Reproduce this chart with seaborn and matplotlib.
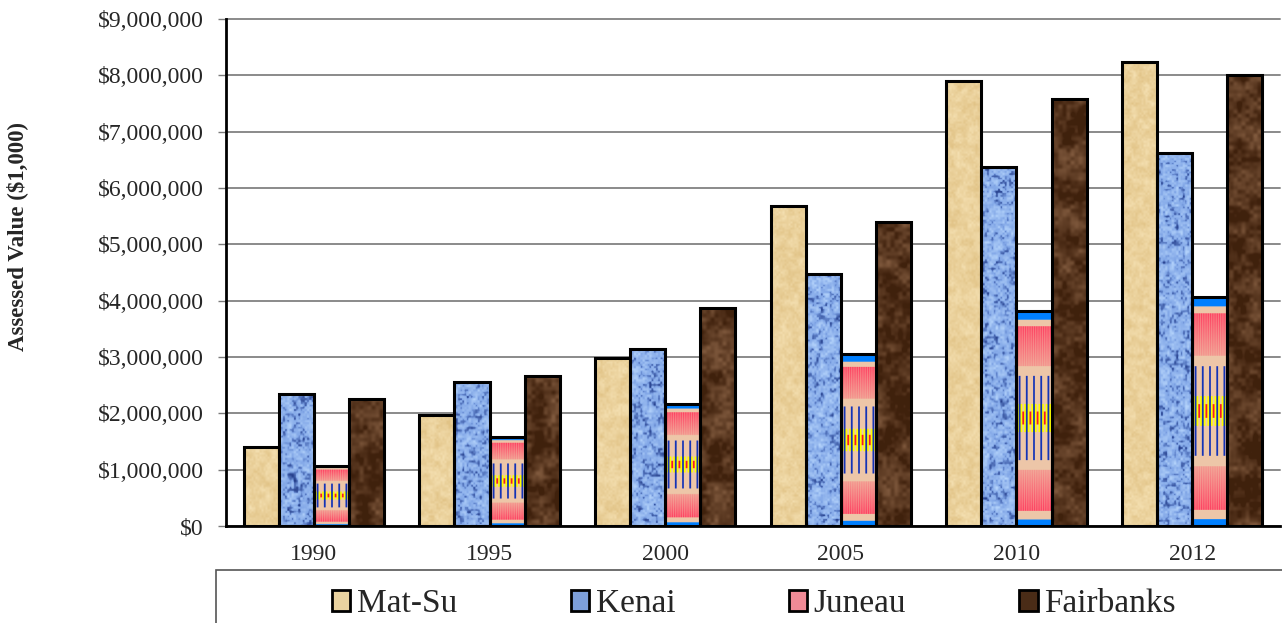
import numpy as np
import pandas as pd
import matplotlib
matplotlib.use("Agg")
import matplotlib.pyplot as plt
import seaborn as sns
from matplotlib.patches import Patch, Rectangle
from matplotlib.ticker import FuncFormatter, MultipleLocator, FixedLocator

# --- Data (assessed value, $1,000) ---
years = ["1990", "1995", "2000", "2005", "2010", "2012"]
boroughs = ["Mat-Su", "Kenai", "Juneau", "Fairbanks"]
mat_su = [1400000, 1970000, 2980000, 5680000, 7900000, 8240000]
kenai = [2340000, 2560000, 3140000, 4470000, 6370000, 6630000]
juneau = [1070000, 1580000, 2170000, 3050000, 3820000, 4070000]
fairbanks = [2250000, 2660000, 3870000, 5400000, 7580000, 8000000]

series = {"Mat-Su": mat_su, "Kenai": kenai, "Juneau": juneau, "Fairbanks": fairbanks}
rows = []
for b in boroughs:
    for yr, v in zip(years, series[b]):
        rows.append({"year": yr, "borough": b, "value": v})
df = pd.DataFrame(rows)

base_colors = {"Mat-Su": "#E9D2A0", "Kenai": "#7D9FD9", "Juneau": "#F08A96", "Fairbanks": "#4A2C17"}


# --- procedural fill textures (deterministic, no data involved) ---
def hash2(i, j, seed):
    v = np.sin(i * 12.9898 + j * 78.233 + seed * 37.719) * 43758.5453
    return v - np.floor(v)


def value_noise(h, w, cell, seed):
    gy = np.arange(h) / cell
    gx = np.arange(w) / cell
    y0 = np.floor(gy)[:, None]
    x0 = np.floor(gx)[None, :]
    fy = (gy[:, None] - y0)
    fx = (gx[None, :] - x0)
    fy = fy * fy * (3 - 2 * fy)
    fx = fx * fx * (3 - 2 * fx)
    a = hash2(y0, x0, seed)
    b = hash2(y0, x0 + 1, seed)
    c = hash2(y0 + 1, x0, seed)
    d = hash2(y0 + 1, x0 + 1, seed)
    return (a * (1 - fx) + b * fx) * (1 - fy) + (c * (1 - fx) + d * fx) * fy


def mix(c1, c2, t):
    c1 = np.array(c1)[None, None, :]
    c2 = np.array(c2)[None, None, :]
    t = np.clip(t, 0, 1)[:, :, None]
    return c1 * (1 - t) + c2 * t


def tex_matsu(h, w, seed):
    n = 0.6 * value_noise(h, w, 6, seed) + 0.4 * value_noise(h, w, 2, seed + 3)
    return mix((0.96, 0.88, 0.70), (0.88, 0.76, 0.52), n)


def tex_kenai(h, w, seed):
    n = 0.55 * value_noise(h, w, 2.2, seed) + 0.45 * value_noise(h, w, 5, seed + 7)
    img = mix((0.72, 0.84, 0.99), (0.47, 0.62, 0.89), n * 1.4)
    dark = np.clip((n - 0.6) * 3, 0, 1)
    navy = np.array([0.15, 0.25, 0.55])[None, None, :]
    return navy * dark[:, :, None] + img * (1 - dark[:, :, None])


def tex_fairbanks(h, w, seed):
    n = 0.6 * value_noise(h, w, 14, seed) + 0.4 * value_noise(h, w, 4, seed + 11)
    return mix((0.25, 0.13, 0.05), (0.50, 0.35, 0.24), (n - 0.3) * 1.6)


def tex_juneau(h=200, w=40):
    img = np.zeros((h, w, 3))
    img[:] = (0.93, 0.78, 0.66)
    r = ((np.arange(h) + 0.5) / h)[:, None] * np.ones((1, w))
    c = np.ones((h, 1)) * ((np.arange(w) + 0.5) / w)[None, :]
    col = np.ones((h, 1)) * np.arange(w)[None, :]
    stripes = (col % 2) < 1
    pink_top = (r > 0.074) & (r < 0.26)
    pink_bot = (r > 0.74) & (r < 0.93)
    pink = pink_top | pink_bot
    deep = np.where(pink_top, 1 - (r - 0.074) / 0.19, (r - 0.74) / 0.19)
    deep = np.clip(0.35 + 0.65 * deep, 0, 1)
    strong = np.array([1.0, 0.20, 0.35])
    light = np.array([0.98, 0.50, 0.52])
    for k in range(3):
        s = np.where(stripes, strong[k], light[k])
        val = s * deep + img[:, :, k] * (1 - deep)
        img[:, :, k] = np.where(pink, val, img[:, :, k])
    mid = (r >= 0.25) & (r <= 0.75)
    spread = np.clip(1 - np.abs(r - 0.5) / 0.25, 0, 1)
    halfw = 0.006 + 0.03 * spread
    dist = np.abs(((c * 5) % 1) - 0.5) / 5
    faint = mid & (np.abs(((c * 5 + 0.5) % 1) - 0.5) / 5 < 0.008)
    img[faint] = (0.70, 0.72, 0.85)
    spindle = mid & (dist < halfw)
    img[spindle] = (0.08, 0.20, 0.72)
    band = np.abs(r - 0.5) < 0.065
    yel = band & (dist >= halfw) & (dist < halfw + 0.035)
    img[yel] = (1.0, 1.0, 0.0)
    red = (np.abs(r - 0.5) < 0.03) & (np.abs(((c * 5 + 0.5) % 1) - 0.5) / 5 < 0.02)
    img[red] = (0.95, 0.1, 0.2)
    blue = (r < 0.044) | (r > 0.97)
    img[blue] = (0.0, 0.5, 1.0)
    return img


# --- Figure ---
sns.set_style("white")
plt.rcParams["font.family"] = ["Liberation Serif", "DejaVu Serif"]

fig = plt.figure(figsize=(12.82, 6.23), dpi=100)
ax = fig.add_axes([226 / 1282, (623 - 526) / 623, 1054 / 1282, 507 / 623])

sns.barplot(data=df, x="year", y="value", hue="borough", hue_order=boroughs,
            palette=base_colors, saturation=1, edgecolor="black", linewidth=2.2,
            width=0.8, errorbar=None, legend=False, ax=ax)

px_per_val = 507 / 9e6
for ci, cont in enumerate(ax.containers):
    name = boroughs[ci]
    for bi, bar in enumerate(cont):
        x0, w, h = bar.get_x(), bar.get_width(), bar.get_height()
        hp = max(int(h * px_per_val), 4)
        wp = 36
        seed = ci * 10 + bi
        if name == "Mat-Su":
            img = tex_matsu(hp, wp, seed)
        elif name == "Kenai":
            img = tex_kenai(hp, wp, seed)
        elif name == "Fairbanks":
            img = tex_fairbanks(hp, wp, seed)
        else:
            img = tex_juneau()
        im = ax.imshow(img, extent=(x0, x0 + w, 0, h), aspect="auto", zorder=1.5,
                       interpolation="bilinear", origin="upper")
        im.set_clip_path(bar)
        bar.set_facecolor("none")
        bar.set_zorder(2)

ax.set_xlim(-0.5, 5.5)
ax.set_ylim(0, 9e6)
ax.set_aspect("auto")

ax.yaxis.set_major_locator(MultipleLocator(1e6))
ax.yaxis.set_major_formatter(FuncFormatter(lambda v, p: f"${v:,.0f}"))
ax.yaxis.grid(True, color="#8a8a8a", lw=1.4)
ax.set_axisbelow(True)
for gl in ax.get_ygridlines():
    gl.set_clip_on(False)

ax.xaxis.set_minor_locator(FixedLocator(np.arange(-0.5, 6, 1)))
ax.tick_params(axis="x", which="major", length=0, pad=13, labelsize=17)
ax.tick_params(axis="x", which="minor", length=7, width=1, color="#7a7a7a", direction="out")
ax.tick_params(axis="y", which="major", length=6, width=1, color="#7a7a7a", direction="out",
               pad=10, labelsize=17, left=True)

for s in ["top", "right"]:
    ax.spines[s].set_visible(False)
for s in ["left", "bottom"]:
    ax.spines[s].set_color("black")
    ax.spines[s].set_linewidth(2)
ax.set_xlabel("")
ax.set_ylabel("")

fig.text(17 / 1282, 1 - 237 / 623, "Assessed Value ($1,000)", rotation=90,
         fontweight="bold", fontsize=16.5, ha="center", va="center")

# legend box
fig.add_artist(Rectangle((216 / 1282, -0.05), 1.0, 0.05 + (623 - 570) / 623,
                         transform=fig.transFigure, fill=False, edgecolor="#555555", lw=1.2))
handles = [Patch(facecolor=base_colors[b], edgecolor="black", linewidth=2) for b in boroughs]
fig.legend(handles, boroughs, loc="center", bbox_to_anchor=(754 / 1282, 1 - 604 / 623),
           ncol=4, frameon=False, fontsize=24, handlelength=0.55, handleheight=0.6,
           handletextpad=0.2, columnspacing=3.4, borderpad=0)

fig.savefig("out.png", dpi=100)
